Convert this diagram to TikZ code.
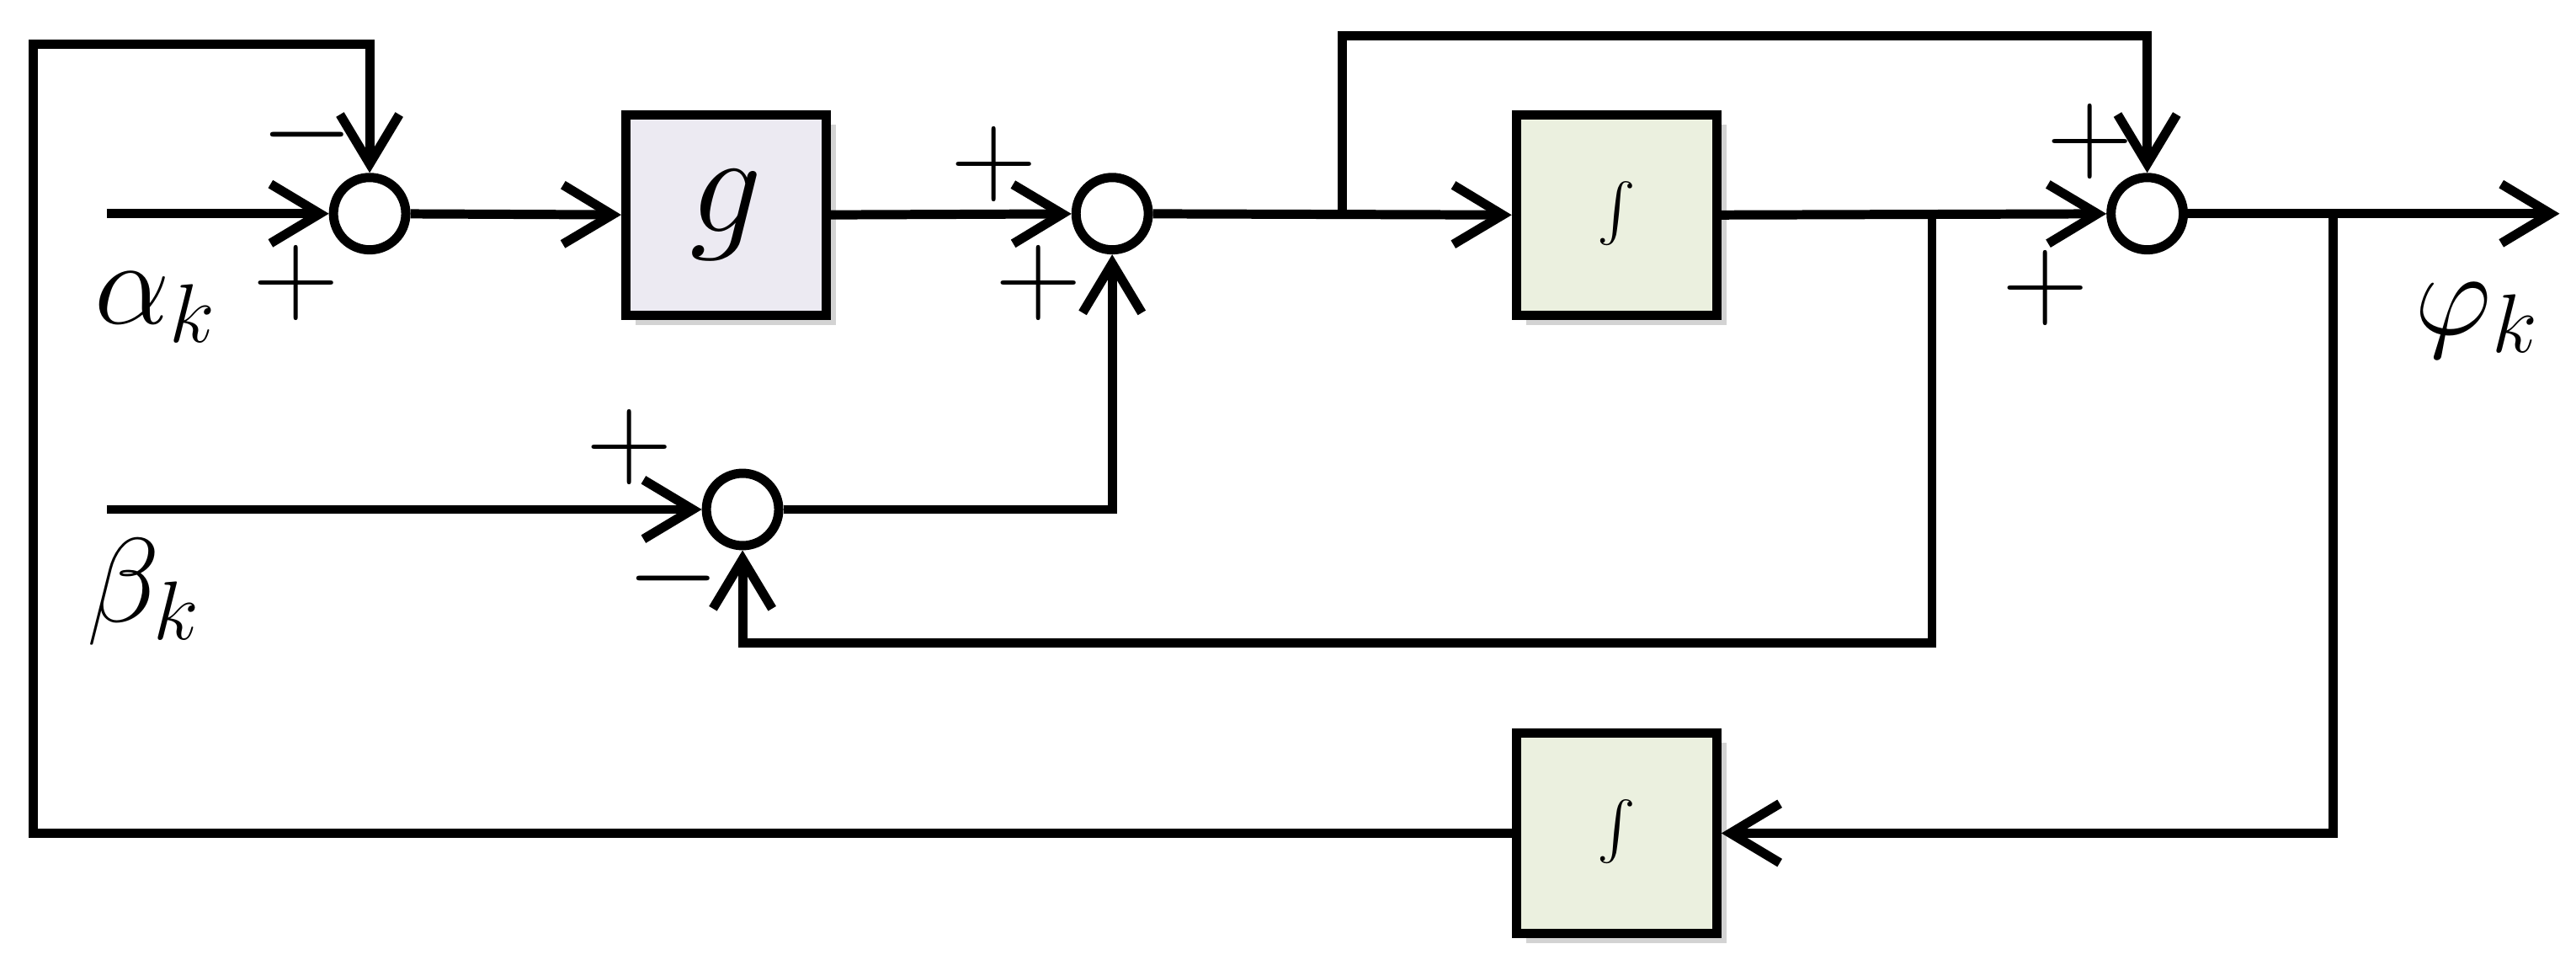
\documentclass[tikz,border=0pt]{standalone}
\usetikzlibrary{arrows.meta,shadows}
\begin{document}
\begin{tikzpicture}[x=0.01cm,y=-0.01cm,
  line width=1.6pt,
  sum/.style={circle,draw,minimum size=0.44cm,inner sep=0pt,line width=1.6pt},
  blk/.style={draw,minimum width=1.22cm,minimum height=1.22cm,inner sep=0pt,line width=1.6pt,
     drop shadow={shadow xshift=0.06cm,shadow yshift=-0.06cm,opacity=0.35,fill=gray}},
  arr/.style={-{Straight Barb[length=0.3cm,width=0.36cm,line width=1.6pt]}},
  lbl/.style={font=\fontsize{22}{24}\selectfont},
  sg/.style={font=\fontsize{20}{22}\selectfont}]
\useasboundingbox (0,0) rectangle (1568,584);
\node[sum] (s1) at (225,130) {};
\node[sum] (s2) at (677,130) {};
\node[sum] (s3) at (1307,130) {};
\node[sum] (s4) at (452,310) {};
\node[blk,fill={rgb,255:red,236;green,234;blue,242}] (g) at (442,131) {\fontsize{34}{36}\selectfont$g$};
\node[blk,fill={rgb,255:red,235;green,240;blue,223}] (i1) at (984,131) {\fontsize{26}{28}\selectfont$\int$};
\node[blk,fill={rgb,255:red,235;green,240;blue,223}] (i2) at (984,507) {\fontsize{26}{28}\selectfont$\int$};
\coordinate (ain) at (65,130);
\coordinate (bin) at (65,310);
\coordinate (out) at (1558,130);
\coordinate (b1) at (817,130);
\coordinate (b2) at (1176,130);
\coordinate (b3) at (1420,130);
\draw[arr] (ain) -- (s1);
\draw[arr] (s1) -- (g);
\draw[arr] (g) -- (s2);
\draw[arr] (s2) -- (i1);
\draw[arr] (i1) -- (s3);
\draw[arr] (s3) -- (out);
\draw[arr] (bin) -- (s4);
\draw[arr] (s4.east) -| (s2.south);
\draw[arr] (b1) |- (1307,22) -- (s3.north);
\draw[arr] (b2) |- (452,391) -- (s4.south);
\draw[arr] (b3) |- (i2.east);
\draw[arr] (i2.west) -| (20,27) -| (s1.north);
\node[sg] at (187,82) {$-$};
\node[sg] at (180,172) {$+$};
\node[sg] at (605,100) {$+$};
\node[sg] at (632,172) {$+$};
\node[sg] at (1272,86) {$+$};
\node[sg] at (1245,175) {$+$};
\node[sg] at (383,272) {$+$};
\node[sg] at (410,352) {$-$};
\node[lbl] at (95,187) {$\alpha_k$};
\node[lbl] at (88,360) {$\beta_k$};
\node[lbl] at (1508,195) {$\varphi_k$};
\end{tikzpicture}
\end{document}
